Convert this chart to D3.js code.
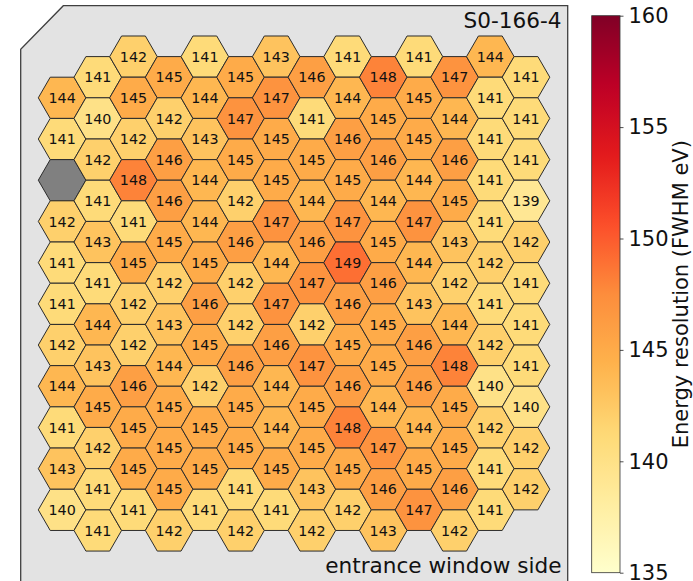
<!DOCTYPE html>
<html>
<head>
<meta charset="utf-8">
<script src="https://cdn.jsdelivr.net/npm/d3@7"></script>
<style>
  html, body { margin: 0; padding: 0; background: #ffffff; }
  svg { display: block; font-family: "DejaVu Sans", sans-serif; }
</style>
</head>
<body>
<svg id="chart" width="693" height="581"></svg>
<script>
// ---------- DATA ----------
// Pixel values per column (top to bottom); null = dead pixel (grey)
const col00 = [144, 141, null, 142, 141, 141, 142, 144, 141, 143, 140];
const col01 = [141, 140, 142, 141, 143, 141, 144, 143, 145, 142, 141, 141];
const col02 = [142, 145, 142, 148, 141, 145, 142, 142, 146, 145, 145, 141];
const col03 = [145, 142, 146, 146, 145, 142, 143, 144, 145, 145, 145, 142];
const col04 = [141, 144, 143, 144, 144, 145, 146, 145, 142, 145, 145, 141];
const col05 = [145, 147, 145, 142, 146, 142, 142, 146, 145, 145, 141, 142];
const col06 = [143, 147, 145, 145, 147, 144, 147, 146, 144, 144, 145, 141];
const col07 = [146, 141, 145, 144, 146, 147, 142, 147, 145, 145, 143, 142];
const col08 = [141, 144, 146, 145, 147, 149, 146, 145, 146, 148, 145, 142];
const col09 = [148, 145, 146, 144, 145, 146, 145, 145, 144, 147, 146, 143];
const col10 = [141, 145, 145, 144, 147, 144, 143, 146, 146, 144, 145, 147];
const col11 = [147, 144, 146, 145, 143, 142, 144, 148, 145, 145, 146, 142];
const col12 = [144, 141, 141, 141, 141, 142, 141, 142, 140, 142, 141, 141];
const col13 = [141, 141, 141, 139, 142, 141, 141, 141, 140, 142, 142];
const columns = [col00, col01, col02, col03, col04, col05, col06, col07, col08, col09, col10, col11, col12, col13];
// first half-row index of each column
const colStart = [2, 1, 0, 1, 0, 1, 0, 1, 0, 1, 0, 1, 0, 1];

const cbTicks = [135, 140, 145, 150, 155, 160];
const cbDomain = [135, 160];
const cmapColors = ["#ffffcc","#ffeda0","#fed976","#feb24c","#fd8d3c","#fc4e2a","#e31a1c","#bd0026","#800026"];
const detectorName = "S0-166-4";
const sideLabel = "entrance window side";
const cbLabel = "Energy resolution (FWHM eV)";

// ---------- BUILD ----------
const svg = d3.select("#chart");
const S3 = Math.sqrt(3);

const cells = [];
columns.forEach((vals, c) => {
  vals.forEach((v, i) => {
    cells.push({ col: c, r: colStart[c] + 2 * i, value: v });
  });
});

// data units: hex radius = 1
const R = 23.79;
const x = d3.scaleLinear().domain([0, 1]).range([62.1, 62.1 + R]);
const y = d3.scaleLinear().domain([0, 1]).range([56.6, 56.6 + R]);
const hexR = x(1) - x(0);

const color = d3.scaleLinear()
  .domain(d3.range(cmapColors.length).map(i => cbDomain[0] + i * (cbDomain[1] - cbDomain[0]) / (cmapColors.length - 1)))
  .range(cmapColors)
  .interpolate(d3.interpolateRgb)
  .clamp(true);

// panel background
const panel = [[63.3, 5.7], [567.7, 5.7], [567.7, 620], [20.7, 620], [20.7, 49.3]];
svg.append("path")
  .attr("d", d3.line()(panel) + "Z")
  .attr("fill", "#e3e3e3")
  .attr("stroke", "#3f3f3f")
  .attr("stroke-width", 1.3);

const hexPath = d3.line()(d3.range(6).map(k => {
  const a = Math.PI / 3 * k;
  return [hexR * Math.cos(a), hexR * Math.sin(a)];
})) + "Z";

const g = svg.append("g");
const cell = g.selectAll("g.cell").data(cells).join("g")
  .attr("class", "cell")
  .attr("transform", d => `translate(${x(d.col * 1.5)},${y(d.r * S3 / 2)})`);

cell.append("path")
  .attr("d", hexPath)
  .attr("fill", d => d.value == null ? "#808080" : color(d.value))
  .attr("stroke", "#2b2b2b")
  .attr("stroke-width", 1)
  .attr("stroke-linejoin", "round");

cell.filter(d => d.value != null).append("text")
  .attr("text-anchor", "middle")
  .attr("y", 14.3 * 0.36)
  .attr("font-size", "14.3px")
  .attr("fill", "#111")
  .text(d => d.value);

// labels
svg.append("text")
  .attr("x", 561.5).attr("y", 27.7)
  .attr("text-anchor", "end")
  .attr("font-size", "21.6px")
  .attr("fill", "#111")
  .text(detectorName);

svg.append("text")
  .attr("x", 561.5).attr("y", 572.5)
  .attr("text-anchor", "end")
  .attr("font-size", "21.6px")
  .attr("fill", "#111")
  .text(sideLabel);

// ---------- COLORBAR ----------
const cbX0 = 591.7, cbX1 = 620, cbY0 = 15.7, cbY1 = 572.7;
const cy = d3.scaleLinear().domain(cbDomain).range([cbY1, cbY0]);

const defs = svg.append("defs");
const grad = defs.append("linearGradient")
  .attr("id", "cbgrad")
  .attr("x1", 0).attr("y1", 1).attr("x2", 0).attr("y2", 0);
d3.range(0, 1.0001, 0.02).forEach(t => {
  grad.append("stop")
    .attr("offset", t)
    .attr("stop-color", color(cbDomain[0] + t * (cbDomain[1] - cbDomain[0])));
});

svg.append("rect")
  .attr("x", cbX0).attr("y", cbY0)
  .attr("width", cbX1 - cbX0).attr("height", cbY1 - cbY0)
  .attr("fill", "url(#cbgrad)")
  .attr("stroke", "#333")
  .attr("stroke-width", 0.8);

const axis = svg.append("g")
  .attr("transform", `translate(${cbX1},0)`)
  .call(d3.axisRight(cy).tickValues(cbTicks).tickSize(3.5).tickPadding(5).tickFormat(d3.format("d")));
axis.select(".domain").remove();
axis.selectAll(".tick line").attr("stroke", "#222").attr("stroke-width", 0.8);
axis.selectAll(".tick text")
  .attr("font-size", "21px")
  .attr("font-family", "DejaVu Sans, sans-serif")
  .attr("fill", "#111");

svg.append("text")
  .attr("transform", `translate(688,${(cbY0 + cbY1) / 2}) rotate(-90)`)
  .attr("text-anchor", "middle")
  .attr("font-size", "21px")
  .attr("fill", "#111")
  .text(cbLabel);
</script>
</body>
</html>
